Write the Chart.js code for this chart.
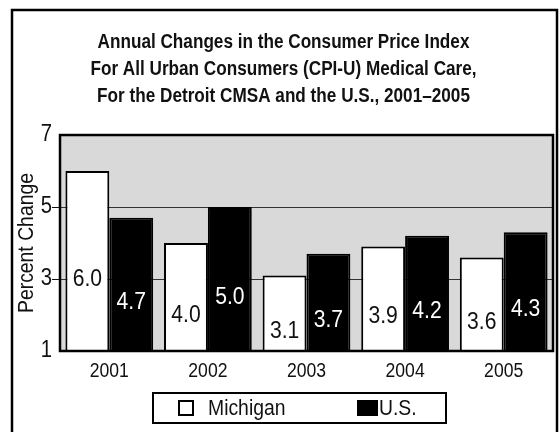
<!DOCTYPE html>
<html>
<head>
<meta charset="utf-8">
<script src="https://cdn.jsdelivr.net/npm/chart.js@4.4.0/dist/chart.umd.min.js"></script>
<style>
html, body { margin: 0; padding: 0; background: #fff; }
</style>
</head>
<body>
<canvas id="cpiChart" width="559" height="432"></canvas>
<script>
var years = ['2001', '2002', '2003', '2004', '2005'];
var michigan = [6.0, 4.0, 3.1, 3.9, 3.6];
var us = [4.7, 5.0, 3.7, 4.2, 4.3];
var yTicks = [1, 3, 5, 7];
var titleLines = [
    'Annual Changes in the Consumer Price Index',
    'For All Urban Consumers (CPI-U) Medical Care,',
    'For the Detroit CMSA and the U.S., 2001\u20132005'
];

var FONT = '"Liberation Sans", Arial, Helvetica, sans-serif';
var SQUEEZE = 0.88; // the original uses a condensed face, so narrow all text a bit

// draw every text horizontally condensed around its anchor point
var squeezePlugin = {
    id: 'squeeze',
    beforeInit: function (chart) {
        var c = chart.ctx, fill = c.fillText;
        c.fillText = function (text, x, y) {
            this.save();
            this.translate(x, y);
            this.scale(SQUEEZE, 1);
            fill.call(this, text, 0, 0);
            this.restore();
        };
    }
};

// white page, outer frame and grey plot background
var framePlugin = {
    id: 'frame',
    beforeDraw: function (chart) {
        var c = chart.ctx, a = chart.chartArea;
        c.save();
        c.fillStyle = '#fff';
        c.fillRect(0, 0, chart.width, chart.height);
        c.strokeStyle = '#000';
        c.lineWidth = 2.5;
        c.strokeRect(12, 10, chart.width - 14, chart.height + 20);
        c.fillStyle = '#d9d9d9';
        c.fillRect(a.left, a.top, a.right - a.left, a.bottom - a.top);
        c.restore();
    },
    afterDatasetsDraw: function (chart) {
        var c = chart.ctx, a = chart.chartArea;
        c.save();
        c.strokeStyle = '#000';
        c.lineWidth = 2.5;
        c.strokeRect(a.left, a.top, a.right - a.left, a.bottom - a.top);

        // value labels in the middle of each bar
        c.font = '24px ' + FONT;
        c.textAlign = 'center';
        c.textBaseline = 'middle';
        chart.data.datasets.forEach(function (ds, i) {
            c.fillStyle = i === 0 ? '#111' : '#fff';
            chart.getDatasetMeta(i).data.forEach(function (bar, j) {
                c.fillText(ds.data[j].toFixed(1), bar.x, (bar.y + bar.base) / 2);
            });
        });

        // boxed legend under the axis
        var lx = 153, ly = a.bottom + 42, lw = 293, lh = 30;
        c.lineWidth = 2;
        c.strokeRect(lx, ly, lw, lh);
        c.font = '22px ' + FONT;
        c.textAlign = 'left';
        var items = [{ x: 179, w: 14, gap: 15 }, { x: 358, w: 19, gap: 2 }];
        chart.data.datasets.forEach(function (ds, i) {
            var it = items[i];
            c.fillStyle = ds.backgroundColor;
            c.fillRect(it.x, ly + 8, it.w, 14);
            c.strokeStyle = '#000';
            c.lineWidth = 2;
            c.strokeRect(it.x, ly + 8, it.w, 14);
            c.fillStyle = '#111';
            c.fillText(ds.label, it.x + it.w + it.gap, ly + lh / 2 + 1);
        });
        c.restore();
    }
};

var ctx = document.getElementById('cpiChart').getContext('2d');

var cpiChart = new Chart(ctx, {
    type: 'bar',
    data: {
        labels: years,
        datasets: [{
            label: 'Michigan',
            data: michigan,
            backgroundColor: '#ffffff',
            borderColor: '#000000',
            borderWidth: 2
        }, {
            label: 'U.S.',
            data: us,
            backgroundColor: '#000000',
            borderColor: '#000000',
            borderWidth: 2
        }]
    },
    options: {
        responsive: false,
        animation: false,
        categoryPercentage: 0.89,
        barPercentage: 1.0,
        layout: {
            padding: { left: 14, right: 6, top: 0, bottom: 45 }
        },
        scales: {
            x: {
                grid: { display: false },
                border: { display: false },
                ticks: { font: { family: FONT, size: 20 }, color: '#111', padding: 0 },
                afterFit: function (s) { s.height = 36; }
            },
            y: {
                min: 1,
                max: 7,
                afterBuildTicks: function (s) {
                    s.ticks = yTicks.map(function (v) { return { value: v }; });
                },
                ticks: { font: { family: FONT, size: 23 }, color: '#111', padding: 0 },
                grid: {
                    color: '#333',
                    lineWidth: 1,
                    tickLength: 8,
                    tickColor: function (c) {
                        return (c.tick && (c.tick.value === 3 || c.tick.value === 5)) ? '#111' : 'rgba(0,0,0,0)';
                    }
                },
                border: { display: false },
                title: {
                    display: true,
                    text: 'Percent Change',
                    font: { family: FONT, size: 22 },
                    color: '#111',
                    padding: { top: 0, bottom: 0 }
                },
                afterFit: function (s) { s.width = 46; }
            }
        },
        plugins: {
            legend: { display: false },
            tooltip: { enabled: false },
            title: {
                display: true,
                text: titleLines,
                font: { family: FONT, size: 19.5, weight: 'bold', lineHeight: 1.385 },
                color: '#111',
                padding: { top: 29, bottom: 25 }
            }
        }
    },
    plugins: [squeezePlugin, framePlugin]
});
</script>
</body>
</html>
